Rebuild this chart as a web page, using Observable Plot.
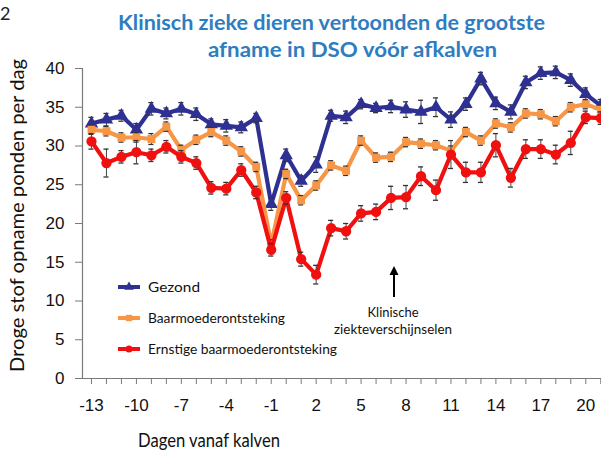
<!DOCTYPE html>
<html><head><meta charset="utf-8">
<script src="https://cdn.jsdelivr.net/npm/d3@7"></script>
<script src="https://cdn.jsdelivr.net/npm/@observablehq/plot@0.6"></script>
<style>
body{margin:0;background:#fff;}
#wrap{position:relative;width:601px;height:454px;overflow:hidden;background:#fff;}
#wrap svg{position:absolute;left:0;top:0;}
</style></head><body><div id="wrap"></div>
<script>
const days = [-13,-12,-11,-10,-9,-8,-7,-6,-5,-4,-3,-2,-1,0,1,2,3,4,5,6,7,8,9,10,11,12,13,14,15,16,17,18,19,20,21];
const tickLabels = [-13,-10,-7,-4,-1,2,5,8,11,14,17,20];
const yTicks = [0,5,10,15,20,25,30,35,40];
const seriesNames = ["Gezond","Baarmoederontsteking","Ernstige baarmoederontsteking"];
const gezond = [32.9,33.4,33.9,32.1,34.8,34.2,34.8,34.1,32.8,32.6,32.4,33.6,22.5,28.8,25.5,27.6,33.9,33.7,35.4,34.9,35.1,34.7,34.4,35.0,33.4,35.4,38.7,35.5,34.4,38.2,39.4,39.5,38.5,36.7,35.2];
const gezondErr = [0.8,0.8,0.7,0.8,0.8,0.7,0.8,0.8,0.7,0.8,0.7,0.6,0.8,0.8,0.7,1.0,0.7,0.8,0.6,0.6,0.8,1.0,1.5,1.2,1.0,0.8,0.8,0.8,0.9,0.8,0.8,0.8,0.8,0.8,0.8];
const baarm = [32.1,31.9,31.1,31.1,30.9,32.5,29.5,30.8,31.8,30.7,29.3,27.3,17.3,26.4,23.0,24.9,27.5,26.8,30.7,28.5,28.6,30.5,30.3,30.1,29.4,31.8,30.7,32.9,32.4,34.2,34.1,33.2,35.0,35.4,34.7];
const baarmErr = [0.6,0.6,0.6,0.6,0.7,0.6,0.6,0.6,0.6,0.6,0.6,0.6,0.6,0.6,0.6,0.6,0.6,0.6,0.6,0.6,0.6,0.6,0.6,0.6,0.6,0.6,0.6,0.6,0.6,0.6,0.6,0.6,0.6,0.6,0.6];
const ernstig = [30.6,27.8,28.6,29.2,28.8,29.9,28.6,27.8,24.6,24.5,26.9,24.0,16.6,23.3,15.4,13.4,19.4,19.0,21.3,21.5,23.3,23.4,26.1,24.3,28.9,26.6,26.6,30.1,25.9,29.6,29.6,28.9,30.4,33.7,33.6];
const ernstigErr = [1.0,1.8,0.8,1.5,0.8,0.8,0.8,0.8,0.8,0.8,0.8,0.8,0.8,0.8,0.9,1.2,1.0,1.0,1.0,1.0,1.5,1.5,1.2,1.3,1.8,1.3,1.3,1.5,1.2,1.2,1.2,1.2,1.5,0.8,0.8];
const colors = ["#2E3192","#F79646","#F01010"];
const symbols = ["triangle","square","circle"];
const dotR = {triangle: 4.0, square: 3.6, circle: 4.4};

const series = [
  {name: seriesNames[0], vals: gezond, errs: gezondErr},
  {name: seriesNames[1], vals: baarm, errs: baarmErr},
  {name: seriesNames[2], vals: ernstig, errs: ernstigErr}
].map((s, i) => ({...s, color: colors[i], symbol: symbols[i],
  rows: days.map((d, j) => ({day: d, v: s.vals[j], e: s.errs[j]}))}));

const marks = [
  Plot.frame({anchor: "left", stroke: "#7a7a7a", strokeWidth: 1.2}),
  Plot.frame({anchor: "bottom", stroke: "#7a7a7a", strokeWidth: 1.2}),
  Plot.axisY({ticks: yTicks, tickSize: 7, tickPadding: 11, label: null, stroke: "#7a7a7a", fill: "#111"}),
  Plot.axisX({ticks: days, tickSize: 6, tickPadding: 14, label: null, stroke: "#7a7a7a", fill: "#111",
    tickFormat: d => tickLabels.includes(d) ? (d < 0 ? "-" + (-d) : String(d)) : ""})
];
for (const s of series) {
  marks.push(Plot.line(s.rows, {x: "day", y: "v", stroke: s.color, strokeWidth: 4.2, strokeLinejoin: "round"}));
  marks.push(Plot.ruleX(s.rows, {x: "day", y1: d => d.v - d.e, y2: d => d.v + d.e, stroke: "#444", strokeWidth: 1}));
  marks.push(Plot.ruleY(s.rows, {x1: d => d.day - 0.17, x2: d => d.day + 0.17, y: d => d.v + d.e, stroke: "#333", strokeWidth: 1.3}));
  marks.push(Plot.ruleY(s.rows, {x1: d => d.day - 0.17, x2: d => d.day + 0.17, y: d => d.v - d.e, stroke: "#333", strokeWidth: 1.3}));
  marks.push(Plot.dot(s.rows, {x: "day", y: "v", fill: s.color, stroke: s.color, symbol: s.symbol, r: dotR[s.symbol]}));
}

const chart = Plot.plot({
  width: 601, height: 454,
  marginTop: 68, marginBottom: 76, marginLeft: 82, marginRight: 0,
  x: {domain: [-13.6, 21.05]},
  y: {domain: [0, 40]},
  style: {fontFamily: "'Liberation Sans', Arial, sans-serif", fontSize: "17px", background: "transparent", overflow: "visible"},
  marks
});
const wrap = document.getElementById("wrap");
wrap.appendChild(chart);

// overlay texts
const svg = d3.select(wrap).append("svg").attr("width", 601).attr("height", 454)
  .style("pointer-events", "none").style("font-family", "Lato, 'Open Sans', sans-serif");
svg.append("text").attr("x", 0).attr("y", 20).attr("font-size", 18).attr("fill", "#222").text("2");
const titleLines = ["Klinisch zieke dieren vertoonden de grootste", "afname in DSO vóór afkalven"];
svg.append("text").attr("x", 118).attr("y", 30).attr("font-size", 21).attr("font-weight", 700)
  .attr("fill", "#2E7DC1").attr("textLength", 427).attr("lengthAdjust", "spacingAndGlyphs").text(titleLines[0]);
svg.append("text").attr("x", 208).attr("y", 57).attr("font-size", 21).attr("font-weight", 700)
  .attr("fill", "#2E7DC1").attr("textLength", 289).attr("lengthAdjust", "spacingAndGlyphs").text(titleLines[1]);
svg.append("text").attr("transform", "translate(24,372) rotate(-90)").attr("font-size", 18.5).attr("fill", "#111")
  .attr("textLength", 313).attr("lengthAdjust", "spacingAndGlyphs").text("Droge stof opname ponden per dag");
svg.append("text").attr("x", 138).attr("y", 447).attr("font-size", 18.5).attr("fill", "#111")
  .attr("textLength", 142).attr("lengthAdjust", "spacingAndGlyphs").text("Dagen vanaf kalven");

// legend
const legY = [287, 318, 349];
const legW = [52, 137, 189];
series.forEach((s, i) => {
  const g = svg.append("g");
  g.append("line").attr("x1", 118).attr("x2", 140).attr("y1", legY[i]).attr("y2", legY[i])
    .attr("stroke", s.color).attr("stroke-width", 4);
  g.append("path").attr("transform", `translate(129,${legY[i]})`)
    .attr("d", d3.symbol(s.symbol === "triangle" ? d3.symbolTriangle : s.symbol === "square" ? d3.symbolSquare : d3.symbolCircle, 40)())
    .attr("fill", s.color);
  g.append("text").attr("x", 148).attr("y", legY[i] + 5).attr("font-size", 14).attr("fill", "#111")
    .attr("textLength", legW[i]).attr("lengthAdjust", "spacingAndGlyphs").text(s.name);
});

// annotation
svg.append("line").attr("x1", 394).attr("x2", 394).attr("y1", 297).attr("y2", 272).attr("stroke", "#000").attr("stroke-width", 2);
svg.append("path").attr("d", "M394,266 L389.5,275 L398.5,275 Z").attr("fill", "#000");
svg.append("text").attr("x", 393).attr("y", 317).attr("text-anchor", "middle").attr("font-size", 14).attr("fill", "#111")
  .attr("textLength", 51).attr("lengthAdjust", "spacingAndGlyphs").text("Klinische");
svg.append("text").attr("x", 393).attr("y", 334).attr("text-anchor", "middle").attr("font-size", 14).attr("fill", "#111")
  .attr("textLength", 118).attr("lengthAdjust", "spacingAndGlyphs").text("ziekteverschijnselen");
</script></body></html>
